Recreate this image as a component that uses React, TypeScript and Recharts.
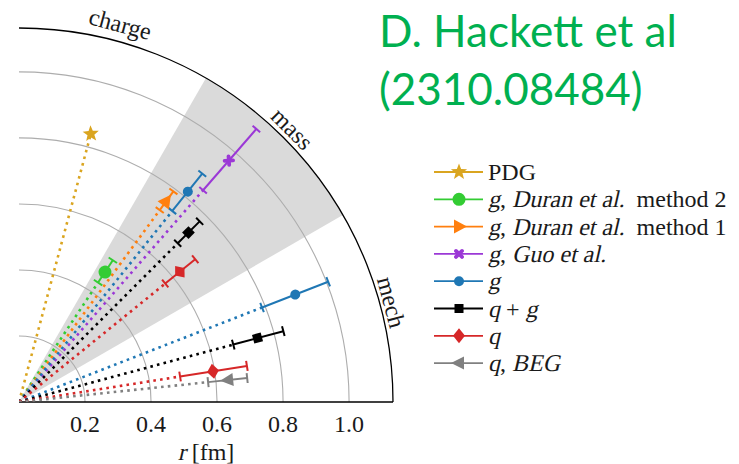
import { ScatterChart, Scatter, XAxis, YAxis, ReferenceLine } from 'recharts';

// outer radius of the quarter disc [fm]
const R_MAX = 1.133;
const radiusTicks = [0.2, 0.4, 0.6, 0.8, 1.0];

const sectorNames = ['charge', 'mass', 'mech'];
const sectorAngles = [75, 45, 15]; // deg, centre of each sector
const massWedge = [30, 60]; // deg, shaded band
const sectorLabelRadius = [1.185, 1.17, 1.167];

const seriesColors = ['#daa520', '#33cc33', '#ff7f0e', '#9b38d6', '#1f77b4', '#000000', '#d62728', '#808080'];
const seriesMarkers = ['star', 'circle', 'right', 'cross', 'dot', 'square', 'diamond', 'left'];
const seriesAngleShift = [0, 11.5, 8.75, 4, 6.25, 0, -6, -9]; // deg, offset inside a sector

// [text, italic]
const legendLabels: [string, boolean][][] = [
  [['PDG', false]],
  [['g', true], [', ', false], ['Duran et al.', true], ['  method 2', false]],
  [['g', true], [', ', false], ['Duran et al.', true], ['  method 1', false]],
  [['g', true], [', ', false], ['Guo et al.', true]],
  [['g', true]],
  [['q', true], [' + ', false], ['g', true]],
  [['q', true]],
  [['q', true], [', ', false], ['BEG', true]],
];
const axisTitle: [string, boolean][] = [['r', true], [' [fm]', false]];

// radii [fm] for charge / mass / mech; null = not shown
const radiusCentral = [
  [0.841, null, null],
  [null, 0.472, null],
  [null, 0.754, null],
  [null, 0.969, null],
  [null, 0.817, 0.898],
  [null, 0.726, 0.748],
  [null, 0.627, 0.595],
  [null, null, 0.637],
];
// PDG uncertainty is too small to draw
const radiusLower = [
  [null, null, null],
  [null, 0.434, null],
  [null, 0.721, null],
  [null, 0.85, null],
  [null, 0.742, 0.79],
  [null, 0.68, 0.672],
  [null, 0.57, 0.494],
  [null, null, 0.576],
];
const radiusUpper = [
  [null, null, null],
  [null, 0.515, null],
  [null, 0.791, null],
  [null, 1.096, null],
  [null, 0.887, 1.005],
  [null, 0.774, 0.829],
  [null, 0.687, 0.699],
  [null, null, 0.695],
];

const SERIF = '"Liberation Serif", "DejaVu Serif", serif';
const FONT_SIZE = 24;
const toRad = (d: number) => (d * Math.PI) / 180;
const polar = (r: number, deg: number) => ({ x: r * Math.cos(toRad(deg)), y: r * Math.sin(toRad(deg)), angle: deg });

let measureCtx: CanvasRenderingContext2D | null = null;
function textWidth(t: string, size: number) {
  if (!measureCtx && typeof document !== 'undefined') {
    measureCtx = document.createElement('canvas').getContext('2d');
  }
  if (!measureCtx) return t.length * size * 0.5;
  measureCtx.font = `${size}px "Liberation Serif"`;
  return measureCtx.measureText(t).width;
}

// serif text with slanted (italic) runs, laid out run by run
function RichText({ x, y, parts, size = FONT_SIZE, anchor = 'start' }: any) {
  const widths = parts.map(([t]: [string, boolean]) => textWidth(t, size));
  const total = widths.reduce((a: number, b: number) => a + b, 0);
  let cursor = anchor === 'middle' ? x - total / 2 : x;
  return (
    <g>
      {parts.map(([t, it]: [string, boolean], k: number) => {
        const px = cursor;
        cursor += widths[k];
        return (
          <text
            key={k}
            transform={`translate(${px} ${y})${it ? ' skewX(-13)' : ''}`}
            fontFamily={SERIF}
            fontSize={size}
            fill="#1a1a1a"
            style={{ whiteSpace: 'pre' }}
          >
            {t}
          </text>
        );
      })}
    </g>
  );
}

function Marker({ kind, x, y, color, rot = 0 }: any) {
  let body: any = null;
  switch (kind) {
    case 'star': {
      const pts: string[] = [];
      for (let k = 0; k < 10; k++) {
        const rr = k % 2 === 0 ? 8.5 : 3.6;
        const a = toRad(-90 + k * 36);
        pts.push(`${rr * Math.cos(a)},${rr * Math.sin(a)}`);
      }
      body = <polygon points={pts.join(' ')} fill={color} />;
      break;
    }
    case 'circle':
      body = <circle r={6.5} fill={color} />;
      break;
    case 'dot':
      body = <circle r={5} fill={color} />;
      break;
    case 'square':
      body = <rect x={-4.5} y={-4.5} width={9} height={9} fill={color} />;
      break;
    case 'diamond':
      body = <polygon points="0,-7.5 6,0 0,7.5 -6,0" fill={color} />;
      break;
    case 'right':
      body = <polygon points="8,0 -5,-7 -5,7" fill={color} />;
      break;
    case 'left':
      body = <polygon points="-8,0 5,-6.5 5,6.5" fill={color} />;
      break;
    case 'cross':
      body = (
        <g stroke={color} strokeWidth={3.8} strokeLinecap="round">
          <line x1={-3} y1={-3} x2={3} y2={3} />
          <line x1={-3} y1={3} x2={3} y2={-3} />
        </g>
      );
      break;
  }
  return <g transform={`translate(${x} ${y}) rotate(${rot})`}>{body}</g>;
}

// everything drawn for one series in one sector
const groups: any[] = [];
radiusCentral.forEach((row, i) => {
  row.forEach((r, j) => {
    if (r == null) return;
    const angle = sectorAngles[j] + seriesAngleShift[i];
    const lo = radiusLower[i][j];
    const hi = radiusUpper[i][j];
    groups.push({
      key: `${i}-${j}`,
      series: i,
      angle,
      guide: [polar(0, angle), polar(lo ?? r, angle)],
      error: lo != null && hi != null ? [polar(lo, angle), polar(hi, angle)] : null,
      centre: [polar(r, angle)],
    });
  });
});

const arcShape = (stroke: string, width: number) => (p: any) => {
  const x1 = Number(p.x1);
  const y1 = Number(p.y1);
  const R = Number(p.x2) - x1;
  return <path d={`M ${x1 + R} ${y1} A ${R} ${R} 0 0 0 ${x1} ${y1 - R}`} fill="none" stroke={stroke} strokeWidth={width} />;
};

const wedgeShape = (p: any) => {
  const x1 = Number(p.x1);
  const y1 = Number(p.y1);
  const R = Number(p.x2) - x1;
  const at = (d: number) => `${x1 + R * Math.cos(toRad(d))} ${y1 - R * Math.sin(toRad(d))}`;
  return <path d={`M ${x1} ${y1} L ${at(massWedge[0])} A ${R} ${R} 0 0 0 ${at(massWedge[1])} Z`} fill="#dadada" />;
};

const sectorLabel = (text: string, angle: number) => (p: any) => (
  <text
    x={Number(p.x2)}
    y={Number(p.y2)}
    transform={`rotate(${90 - angle} ${p.x2} ${p.y2})`}
    textAnchor="middle"
    dominantBaseline="central"
    fontFamily={SERIF}
    fontSize={FONT_SIZE}
    fill="#1a1a1a"
  >
    {text}
  </text>
);

const capShape = (color: string) => (p: any) => {
  const a = toRad(p.payload.angle);
  const dx = 5 * Math.sin(a);
  const dy = 5 * Math.cos(a);
  return <line x1={p.cx - dx} y1={p.cy - dy} x2={p.cx + dx} y2={p.cy + dy} stroke={color} strokeWidth={2} />;
};

const AxisTitle = (props: any) => {
  const vb = props.viewBox || {};
  return <RichText x={vb.x + vb.width / 2} y={vb.y + 58} parts={axisTitle} anchor="middle" />;
};

function Legend() {
  return (
    <g>
      {legendLabels.map((parts, i) => {
        const y = 172 + i * 27.3;
        return (
          <g key={i}>
            <line x1={434} y1={y} x2={483} y2={y} stroke={seriesColors[i]} strokeWidth={1.8} />
            <Marker kind={seriesMarkers[i]} x={459} y={y} color={seriesColors[i]} />
            <RichText x={488} y={y + 8} parts={parts} />
          </g>
        );
      })}
    </g>
  );
}

export default function App() {
  return (
    <div style={{ position: 'absolute', left: 0, top: 0, width: 739, height: 464, background: '#fff' }}>
      <ScatterChart width={739} height={464} margin={{ top: 28, left: 19, right: 346, bottom: 2 }}>
        <XAxis
          type="number"
          dataKey="x"
          domain={[0, R_MAX]}
          allowDataOverflow
          ticks={radiusTicks}
          tickFormatter={(v: number) => v.toFixed(1)}
          tickLine={false}
          tickSize={6}
          tickMargin={7}
          height={60}
          axisLine={{ stroke: '#000', strokeWidth: 1.3 }}
          tick={{ fontFamily: SERIF, fontSize: FONT_SIZE, fill: '#1a1a1a' }}
          label={AxisTitle}
        />
        <YAxis
          type="number"
          dataKey="y"
          domain={[0, R_MAX]}
          allowDataOverflow
          width={0}
          tick={false}
          tickLine={false}
          axisLine={{ stroke: '#000', strokeWidth: 1.3 }}
        />
        <ReferenceLine segment={[{ x: 0, y: 0 }, { x: R_MAX, y: 0 }]} ifOverflow="visible" shape={wedgeShape} />
        {radiusTicks.map((r) => (
          <ReferenceLine
            key={r}
            segment={[{ x: 0, y: 0 }, { x: r, y: 0 }]}
            ifOverflow="visible"
            shape={arcShape('#adadad', 1.1)}
          />
        ))}
        <ReferenceLine segment={[{ x: 0, y: 0 }, { x: R_MAX, y: 0 }]} ifOverflow="visible" shape={arcShape('#000', 1.3)} />
        {sectorNames.map((name, j) => {
          const p = polar(sectorLabelRadius[j], sectorAngles[j]);
          return (
            <ReferenceLine
              key={name}
              segment={[{ x: 0, y: 0 }, { x: p.x, y: p.y }]}
              ifOverflow="visible"
              shape={sectorLabel(name, sectorAngles[j])}
            />
          );
        })}
        {groups.map((g) => (
          <Scatter
            key={`guide-${g.key}`}
            data={g.guide}
            line={{ stroke: seriesColors[g.series], strokeWidth: 2.6, strokeDasharray: '2.6 4.2' }}
            shape={() => <g />}
            isAnimationActive={false}
          />
        ))}
        {groups
          .filter((g) => g.error)
          .map((g) => (
            <Scatter
              key={`err-${g.key}`}
              data={g.error}
              line={{ stroke: seriesColors[g.series], strokeWidth: 2 }}
              shape={capShape(seriesColors[g.series])}
              isAnimationActive={false}
            />
          ))}
        {groups.map((g) => (
          <Scatter
            key={`pt-${g.key}`}
            data={g.centre}
            shape={(p: any) => (
              <Marker
                kind={seriesMarkers[g.series]}
                x={p.cx}
                y={p.cy}
                color={seriesColors[g.series]}
                rot={-p.payload.angle}
              />
            )}
            isAnimationActive={false}
          />
        ))}
      </ScatterChart>
      <svg width={739} height={464} style={{ position: 'absolute', left: 0, top: 0, pointerEvents: 'none' }}>
        <text fontFamily="Lato, 'Open Sans', sans-serif" fontSize={44} fill="#00b050">
          <tspan x={379} y={47}>D. Hackett et al</tspan>
          <tspan x={379} y={105}>(2310.08484)</tspan>
        </text>
        <Legend />
      </svg>
    </div>
  );
}
